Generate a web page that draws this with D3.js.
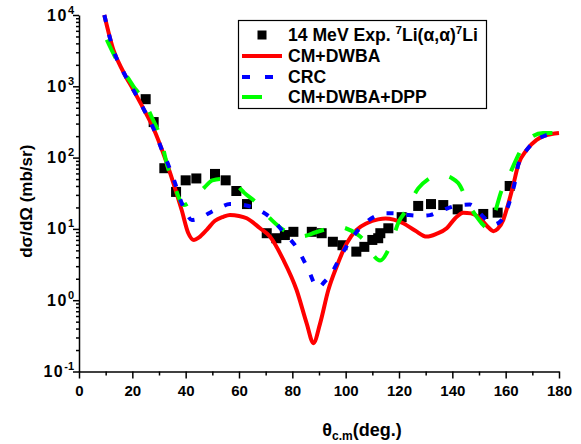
<!DOCTYPE html>
<html>
<head>
<meta charset="utf-8">
<script src="https://cdn.jsdelivr.net/npm/d3@7"></script>
<style>
  body { margin: 0; background: #fff; }
  svg text { font-family: "Liberation Sans", Arial, sans-serif; font-weight: bold; fill: #000; }
</style>
</head>
<body>
<div id="chartDiv"></div>
<script>
// experimental points, 14 MeV 7Li(a,a)7Li
const expAngle = [25, 28, 32, 36.4, 40, 44, 51, 55, 59, 63, 70.4, 74, 77.2, 80.4, 87.3, 91, 95.2, 98.8,
  104, 107, 110, 112.2, 113, 116, 121, 127.2, 132, 136.6, 142, 151.6, 157, 161.5];
const expSigma = [660, 315, 71, 33, 48, 51, 59, 48, 34, 22.3, 8.7, 7.4, 8.2, 9.1, 9.1, 8.7, 6.6, 5.9,
  4.8, 5.6, 7.0, 7.4, 8.7, 10.2, 14.6, 21, 22.3, 21.6, 18.8, 16.2, 16.9, 40];

// CM+DWBA
const dwbaAngle = [9.5, 12.9, 16.6, 20.4, 24.1, 27.9, 31.6, 35.4, 38.5, 41, 43.1, 45, 47.9, 51, 54.1, 56.6,
  60, 62.9, 67.9, 71.6, 76.6, 81.6, 85.4, 87.9, 90.4, 93.5, 96.6, 100.4, 104.1, 107.9, 112.2, 115, 118,
  121.6, 126, 130.4, 134, 137.9, 141, 144.1, 147, 150.4, 153, 155.4, 157, 159.1, 160.3, 162.9, 164.7,
  167.9, 171.6, 175, 177.2, 180];
const dwbaSigma = [10000, 3230, 1600, 887, 491, 258, 115, 44, 18.4, 8.7, 7.0, 7.6, 9.7, 13, 14.8, 15.7,
  15.2, 14.1, 10.2, 7.8, 3.7, 1.39, 0.47, 0.25, 0.47, 1.39, 2.95, 6.3, 9.7, 12, 13.6, 14, 13.5,
  12, 9.5, 7.8, 8.5, 10.2, 14, 16.9, 16.5, 14.1, 11, 9.3, 10, 13.3, 18.4, 42, 79,
  128, 177, 205, 214, 221];

// CRC
const crcAngle = [9.5, 12.9, 16.6, 20.4, 24.1, 27.9, 31.6, 33.5, 36, 38.5, 40.5, 42.3, 45, 49.1, 53, 56.6,
  60, 64.8, 68, 71.6, 76.6, 82, 85.6, 89.6, 92, 94.7, 98.1, 102.3, 107.2, 111, 115.4, 119, 123.5, 128,
  131.6, 135, 138.9, 142.5, 146.6, 150, 152.9, 155.5, 158.5, 161.6, 163.5, 164.7, 167.9, 171.6, 175,
  177.2, 180];
const crcSigma = [10000, 3230, 1600, 887, 491, 258, 115, 79, 44, 23, 16, 13.3, 14, 16.9, 20, 22.3,
  22, 20.3, 18, 14.6, 9.1, 5.2, 2.9, 1.5, 1.8, 2.4, 4.1, 7.4, 12, 15, 16.6, 16.5, 15.7, 15.3,
  15.6, 17.5, 19.9, 21.5, 22, 17, 13.3, 11.5, 13.3, 25, 46, 79, 128, 177, 205,
  214, 221];

// CM+DWBA+DPP
const dppAngle = [10.4, 13.5, 16.6, 18.4, 20.4, 22.9, 25, 27.4, 30.4, 33.4, 36, 37.5, 39.3, 41, 43.5, 47,
  50, 53.5, 56, 59.1, 62, 66.6, 69, 72.3, 77, 82.2, 85, 88.5, 93, 97, 99.1, 104.1, 107.5, 110.3, 112.9,
  116, 118, 119.7, 122.9, 127.2, 131, 134.1, 137, 140, 142.2, 146.6, 149, 151, 152.9, 155.4, 158.5,
  161.6, 165.4, 169.8, 174, 177, 180];
const dppSigma = [4500, 2600, 1650, 1300, 1000, 755, 560, 360, 200, 71, 39, 27, 21.6, 23, 28, 38,
  48, 50, 47, 41, 32, 23, 18, 13.3, 9.5, 7.8, 8, 8.9, 10, 11, 10.5, 8.5, 6.5, 4.3, 3.6,
  5.1, 8, 12.1, 18.6, 37, 50, 57, 56, 51, 44, 20.5, 15, 12, 10.5, 14.8, 35,
  60, 121, 196, 222, 222, 221];

const xTicks = [0, 20, 40, 60, 80, 100, 120, 140, 160, 180];
const xMinor = [10, 30, 50, 70, 90, 110, 130, 150, 170];
const yExponents = [-1, 0, 1, 2, 3, 4];

const legendLabels = ['14 MeV Exp.', 'CM+DWBA', 'CRC', 'CM+DWBA+DPP'];

const W = 581, H = 444;
const m = { left: 79, right: 22, top: 15, bottom: 72.5 };

const svg = d3.select('#chartDiv').append('svg')
  .attr('width', W)
  .attr('height', H);

const x = d3.scaleLinear().domain([0, 180]).range([m.left, W - m.right]);
const y = d3.scaleLog().domain([0.1, 10000]).range([H - m.bottom, m.top]);

svg.append('clipPath').attr('id', 'plotClip')
  .append('rect')
  .attr('x', m.left).attr('y', m.top - 2)
  .attr('width', W - m.right - m.left + 2)
  .attr('height', H - m.bottom - m.top + 2);

// x axis
const xAxis = svg.append('g')
  .attr('transform', `translate(0,${H - m.bottom})`)
  .call(d3.axisBottom(x).tickValues(xTicks).tickSize(7).tickPadding(4).tickSizeOuter(0));
xAxis.selectAll('text').attr('font-size', 15).attr('dy', '0.9em');
svg.append('g')
  .attr('transform', `translate(0,${H - m.bottom})`)
  .call(d3.axisBottom(x).tickValues(xMinor).tickSize(4).tickFormat('').tickSizeOuter(0))
  .select('.domain').remove();

// y axis, majors + minor log ticks
const yMajor = yExponents.map(e => Math.pow(10, e));
const yMinorVals = [];
yExponents.slice(0, -1).forEach(e => {
  for (let k = 2; k <= 9; k++) yMinorVals.push(k * Math.pow(10, e));
});
svg.append('g')
  .attr('transform', `translate(${m.left},0)`)
  .call(d3.axisLeft(y).tickValues(yMajor).tickSize(6).tickFormat('').tickSizeOuter(0));
svg.append('g')
  .attr('transform', `translate(${m.left},0)`)
  .call(d3.axisLeft(y).tickValues(yMinorVals).tickSize(3).tickFormat('').tickSizeOuter(0))
  .select('.domain').remove();

svg.selectAll('.domain, .tick line').attr('stroke', '#000').attr('stroke-width', 1.5);

const yLab = svg.append('g').selectAll('text')
  .data(yExponents)
  .enter().append('text')
  .attr('x', 74)
  .attr('y', d => y(Math.pow(10, d)) + 5.5)
  .attr('text-anchor', 'end');
yLab.append('tspan').attr('font-size', 16).attr('letter-spacing', 1.5).text('10');
yLab.append('tspan').attr('font-size', 11).attr('dy', -7).text(d => d);

// axis titles
svg.append('text')
  .attr('transform', `translate(32,${(y(10000) + y(0.1)) / 2 + 8}) rotate(-90)`)
  .attr('text-anchor', 'middle')
  .attr('font-size', 17)
  .text('d\u03c3/d\u03a9 (mb/sr)');

const xt = svg.append('text')
  .attr('x', 362)
  .attr('y', 436)
  .attr('text-anchor', 'middle')
  .attr('font-size', 18);
xt.append('tspan').text('\u03b8');
xt.append('tspan').attr('font-size', 12).attr('dy', 4).text('c.m');
xt.append('tspan').attr('dy', -4).text('(deg.)');

const plot = svg.append('g').attr('clip-path', 'url(#plotClip)');

// data squares
plot.selectAll('.pt')
  .data(expAngle.map((a, i) => [a, expSigma[i]]))
  .enter().append('rect')
  .attr('class', 'pt')
  .attr('x', d => x(d[0]) - 5)
  .attr('y', d => y(d[1]) - 5)
  .attr('width', 10)
  .attr('height', 10)
  .attr('fill', '#000');

const line = d3.line()
  .x(d => x(d[0]))
  .y(d => y(d[1]))
  .curve(d3.curveMonotoneX);

const series = [
  { a: dwbaAngle, s: dwbaSigma, color: '#ff0000', dash: null },
  { a: dppAngle, s: dppSigma, color: '#00ff00', dash: '20,22' },
  { a: crcAngle, s: crcSigma, color: '#0000ff', dash: '7,13' }
];
series.forEach(c => {
  plot.append('path')
    .datum(c.a.map((a, i) => [a, c.s[i]]))
    .attr('fill', 'none')
    .attr('stroke', c.color)
    .attr('stroke-width', 4)
    .attr('stroke-dasharray', c.dash)
    .attr('d', line);
});

// legend
const lg = svg.append('g');
lg.append('rect')
  .attr('x', 238.5).attr('y', 20.5)
  .attr('width', 248).attr('height', 88)
  .attr('fill', '#fff')
  .attr('stroke', '#000')
  .attr('stroke-width', 1.2);
const rowY = [35, 56, 77, 97];
lg.append('rect').attr('x', 257.5).attr('y', rowY[0] - 4.5).attr('width', 9).attr('height', 9).attr('fill', '#000');
lg.append('line').attr('x1', 242).attr('x2', 282).attr('y1', rowY[1]).attr('y2', rowY[1])
  .attr('stroke', '#ff0000').attr('stroke-width', 4);
lg.append('line').attr('x1', 242).attr('x2', 274).attr('y1', rowY[2]).attr('y2', rowY[2])
  .attr('stroke', '#0000ff').attr('stroke-width', 4).attr('stroke-dasharray', '8,15');
lg.append('line').attr('x1', 242).attr('x2', 262).attr('y1', rowY[3]).attr('y2', rowY[3])
  .attr('stroke', '#00ff00').attr('stroke-width', 4);

const lt = lg.selectAll('.lt')
  .data(legendLabels)
  .enter().append('text')
  .attr('class', 'lt')
  .attr('x', 288)
  .attr('y', (d, i) => rowY[i] + 6)
  .attr('font-size', 17.6)
  .text(d => d);
const first = lg.select('.lt');
first.append('tspan').text(' ');
first.append('tspan').attr('font-size', 11.5).attr('dy', -7).text('7');
first.append('tspan').attr('dy', 7).text('Li(\u03b1,\u03b1)');
first.append('tspan').attr('font-size', 11.5).attr('dy', -7).text('7');
first.append('tspan').attr('dy', 7).text('Li');
</script>
</body>
</html>
